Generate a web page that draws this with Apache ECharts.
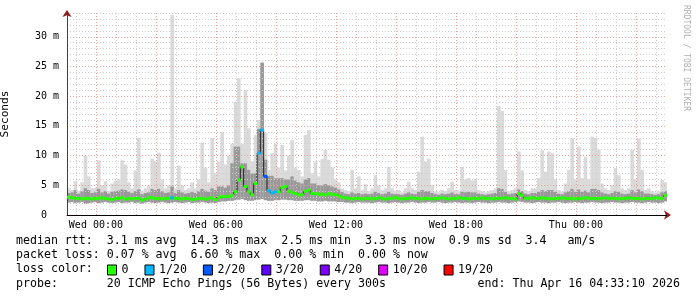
<!DOCTYPE html>
<html><head><meta charset="utf-8">
<script src="https://cdn.jsdelivr.net/npm/echarts@6/dist/echarts.min.js"></script>
<style>html,body{margin:0;padding:0;background:#fff}#c{width:697px;height:297px}</style>
</head><body><div id="c"></div>
<script>
// ---- time frame (hours relative to Wed 00:00) ----
const T_START = -(1 + 26/60 + 50/3600);   // Tue 22:33:10
const T_END = T_START + 30;               // Thu 04:33:10
const STEP = 1/6;                         // 10-minute buckets

const xTickValues = [0, 6, 12, 18, 24];
const xTickLabels = ['Wed 00:00', 'Wed 06:00', 'Wed 12:00', 'Wed 18:00', 'Thu 00:00'];
const yMax = 34;

const lossLevels = ['0', '1/20', '2/20', '3/20', '4/20', '10/20', '19/20'];
const lossColors = ['#26ff00', '#00b8ff', '#0059ff', '#5e00ff', '#7e00ff', '#dd00ff', '#ff0000'];

// median rtt (ms)
const medianMs = [
  3.0,2.9,2.8,2.8,2.7,2.8,2.8,2.7,2.8,2.8,
  2.9,2.8,2.7,2.6,2.8,2.8,2.9,2.7,2.8,2.7,
  2.8,2.8,2.5,2.7,2.9,2.9,2.8,2.8,2.7,2.8,
  2.8,2.9,2.8,2.8,2.7,2.8,2.8,2.6,2.7,2.8,
  2.8,2.7,2.8,2.9,2.6,3.0,3.1,3.1,3.1,3.3,
  3.9,5.9,8.1,4.8,3.9,3.4,5.3,10.4,14.3,6.5,
  4.1,3.7,3.9,3.9,4.6,4.8,4.0,3.8,3.6,3.4,
  3.4,4.0,4.2,3.6,3.6,3.5,3.5,3.4,3.6,3.5,
  3.4,3.2,3.0,2.9,2.8,2.7,2.8,2.8,2.7,2.8,
  2.8,2.7,2.8,2.9,2.8,2.7,2.8,2.8,2.9,2.8,
  2.7,2.8,2.8,2.9,2.8,2.8,2.7,2.8,2.8,2.7,
  2.8,2.8,2.9,2.8,2.7,2.8,2.8,2.9,2.8,2.8,
  2.7,2.8,2.8,2.8,2.9,2.8,2.8,2.7,2.8,2.8,
  2.8,2.9,2.8,2.8,2.7,3.6,3.3,2.8,2.8,2.9,
  2.8,2.8,2.9,2.8,2.8,2.7,2.8,2.8,2.9,2.8,
  2.8,2.8,2.7,2.8,2.8,2.9,2.8,2.8,2.8,2.7,
  2.8,2.9,2.8,2.8,2.8,2.7,2.8,2.8,2.9,2.8,
  2.8,2.8,2.7,2.8,2.8,2.8,2.9,2.8,2.8,3.3
];
// bottom of the smoke (ms)
const smokeMin = [
  2.1,2.2,2.0,2.1,2.2,1.9,2.0,2.1,2.2,2.0,
  2.1,2.2,2.1,2.0,2.1,2.2,2.0,2.1,2.1,2.2,
  2.0,2.1,1.9,2.1,2.2,2.1,2.0,2.1,2.2,2.1,
  2.0,2.1,2.2,2.1,2.0,2.1,2.2,2.0,2.1,2.1,
  2.2,2.1,2.0,2.1,2.0,2.2,2.3,2.3,2.4,2.4,
  2.5,2.6,2.7,2.5,2.4,2.4,2.5,2.6,2.7,2.5,
  2.4,2.4,2.5,2.5,2.6,2.6,2.5,2.5,2.4,2.4,
  2.4,2.5,2.5,2.4,2.4,2.3,2.3,2.4,2.3,2.3,
  2.3,2.2,2.2,2.1,2.1,2.0,2.1,2.2,2.1,2.1,
  2.1,2.0,2.1,2.2,2.1,2.1,2.0,2.1,2.2,2.1,
  2.0,2.1,2.1,2.2,2.1,2.0,2.1,2.1,2.2,2.1,
  2.1,2.2,2.1,2.0,2.1,2.1,2.2,2.1,2.0,2.1,
  2.1,2.0,2.1,2.2,2.1,2.1,2.0,2.1,2.1,2.2,
  2.1,2.1,2.0,2.1,2.2,2.3,2.2,2.1,2.1,2.0,
  2.1,2.2,2.1,2.1,2.0,2.1,2.1,2.2,2.1,2.0,
  2.1,2.1,2.2,2.1,2.0,2.1,2.1,2.2,2.1,2.1,
  2.0,2.1,2.1,2.2,2.1,2.1,2.0,2.1,2.1,2.2,
  2.1,2.1,2.0,2.1,2.2,2.1,2.1,2.0,2.1,2.3
];
// top of the dense (dark) smoke (ms)
const smokeMid = [
  3.7,3.8,4.2,3.6,4.0,4.5,4.2,3.7,3.8,4.4,
  3.8,4.0,3.6,3.9,4.0,4.1,4.3,4.2,3.9,3.7,
  4.0,4.3,3.5,3.7,3.8,4.4,4.2,4.4,4.0,3.7,
  3.8,4.8,3.7,4.2,3.8,3.6,3.7,3.9,3.7,4.0,
  4.4,4.1,3.9,4.5,4.2,4.8,4.8,4.6,5.0,8.7,
  11.5,11.5,8.7,8.7,7.6,7.0,7.0,14.5,25.6,9.3,
  6.6,6.6,6.2,6.2,6.2,6.0,6.0,6.5,5.8,5.5,
  5.3,6.0,6.2,5.3,5.3,5.0,5.0,5.2,5.0,4.8,
  4.6,4.3,3.9,3.6,3.5,3.8,3.6,3.7,3.5,3.6,
  3.5,3.6,3.9,3.7,3.5,3.6,3.9,3.6,3.5,3.5,
  3.4,3.6,3.8,3.6,3.5,3.9,4.2,4.0,4.0,3.7,
  3.5,3.4,3.6,3.5,3.6,3.8,3.5,3.5,3.9,3.8,
  3.9,3.8,3.8,3.6,3.5,3.4,3.5,3.6,3.7,4.5,
  4.4,3.9,3.5,3.6,3.7,4.3,4.0,3.6,3.5,3.7,
  3.7,3.9,4.2,4.0,4.2,4.2,3.9,3.6,3.5,3.8,
  4.0,4.4,3.9,4.3,3.9,4.1,3.8,4.4,4.4,4.2,
  3.8,3.6,3.5,3.7,4.0,3.9,3.6,3.5,3.6,4.2,
  3.8,4.3,4.0,3.6,3.6,3.5,3.4,3.5,3.8,4.0
];
// top of the light smoke = slowest ping (ms)
const smokeMax = [
  4.5,4.2,5.7,4.0,5.5,10.0,6.5,4.5,4.6,9.2,
  5.0,5.7,4.0,5.3,5.8,6.0,9.2,8.5,5.5,4.5,
  7.5,13.0,4.0,4.5,5.0,9.5,9.0,10.5,6.0,4.5,
  5.0,33.7,4.5,8.3,5.0,4.2,4.5,5.5,4.5,6.0,
  12.2,8.0,5.5,13.0,7.0,9.0,14.0,8.5,10.0,12.0,
  19.0,23.0,12.0,21.0,14.6,9.0,13.5,16.0,25.8,13.8,
  7.6,10.4,12.0,8.0,11.8,7.5,10.0,12.6,8.0,7.6,
  6.5,13.5,14.3,7.0,9.0,6.5,9.4,11.0,9.3,8.0,
  6.0,5.5,4.5,4.2,4.0,7.6,4.5,6.5,4.2,5.2,
  4.0,4.5,6.7,5.0,4.2,4.5,8.1,4.5,4.0,4.2,
  3.8,4.5,5.6,4.5,4.2,7.3,13.2,9.0,9.5,5.0,
  4.0,3.8,4.2,4.0,4.5,5.6,4.2,4.0,8.1,6.0,
  6.2,5.8,6.0,4.2,4.0,3.8,4.0,4.2,4.5,18.3,
  17.5,7.6,4.0,4.2,4.5,10.7,7.5,4.2,4.0,4.5,
  4.5,6.2,10.9,7.3,10.7,10.4,6.0,4.2,4.0,5.3,
  7.6,12.9,6.0,11.5,6.2,9.8,6.0,13.2,13.0,11.0,
  5.3,4.5,4.2,5.0,7.9,6.7,4.5,4.2,4.5,11.0,
  6.0,12.9,7.6,4.2,4.5,4.0,3.8,4.0,5.9,5.5
];
// loss level index per bucket (index into lossLevels)
const lossIdx = [
  0,0,0,0,0,0,0,0,0,0,
  0,0,0,0,0,0,0,0,0,0,
  0,0,0,0,0,0,0,0,0,0,
  0,1,0,0,0,0,0,0,0,0,
  0,0,0,0,0,0,0,0,0,0,
  0,0,0,0,0,0,0,1,1,2,
  1,1,1,0,0,0,0,0,0,0,
  0,0,0,0,0,0,0,0,0,0,
  0,0,0,0,0,0,0,0,0,0,
  0,0,0,0,0,0,0,0,0,0,
  0,0,0,0,0,0,0,0,0,0,
  0,0,0,0,0,0,0,0,0,0,
  0,0,0,0,0,0,0,0,0,0,
  0,0,0,0,0,0,0,0,0,0,
  0,0,0,0,0,0,0,0,0,0,
  0,0,0,0,0,0,0,0,0,0,
  0,0,0,0,0,0,0,0,0,0,
  0,0,0,0,0,0,0,0,0,0
];

const legendLines = [
  'median rtt:  3.1 ms avg  14.3 ms max  2.5 ms min  3.3 ms now  0.9 ms sd  3.4   am/s',
  'packet loss: 0.07 % avg  6.60 % max  0.00 % min  0.00 % now',
  'loss color:',
  'probe:       20 ICMP Echo Pings (56 Bytes) every 300s'
];
const endText = 'end: Thu Apr 16 04:33:10 2026';
const creditText = 'RRDTOOL / TOBI OETIKER';

// ---------------------------------------------------------------
const MONO = '"DejaVu Sans Mono", monospace';
const times = medianMs.map((_, i) => T_START + (i + 0.5) * STEP);
const smokeData = times.map((t, i) => [t, smokeMin[i], smokeMid[i], smokeMax[i]]);
const medianData = times.map((t, i) => [t, medianMs[i]]);

const gridMarks = [];
for (let h = Math.ceil(T_START); h <= Math.floor(T_END); h++) {
  gridMarks.push({ xAxis: h, lineStyle: { color: h % 3 === 0 ? '#e3a3a3' : '#cdcdcd', type: [1, 2], width: 1 } });
}

const chart = echarts.init(document.getElementById('c'), null, { renderer: 'canvas' });

const lossSeries = lossLevels.map((name, k) => ({
  name, type: 'custom', z: 5, clip: true,
  itemStyle: { color: lossColors[k] },
  encode: { x: 0, y: 1 },
  data: medianData.filter((_, i) => lossIdx[i] === k),
  renderItem: (params, api) => {
    const t = api.value(0), m = api.value(1);
    const a = api.coord([t - STEP / 2, m]);
    const b = api.coord([t + STEP / 2, m]);
    return { type: 'rect', shape: { x: a[0], y: a[1] - 1.5, width: b[0] - a[0] + 0.3, height: 3 },
             style: { fill: lossColors[k] } };
  }
}));

chart.setOption({
  animation: false,
  backgroundColor: '#fff',
  grid: { left: 67, right: 30, top: 13, bottom: 82, containLabel: false, outerBoundsMode: 'none' },
  xAxis: {
    type: 'value', min: T_START, max: T_END,
    axisLine: { show: true, onZero: false, symbol: ['none', 'arrow'], symbolSize: [7, 7], symbolOffset: [0, 4],
                lineStyle: { color: '#8b1e1e', width: 1 } },
    axisTick: { show: false },
    splitLine: { show: false },
    axisLabel: {
      customValues: xTickValues,
      formatter: v => { const k = xTickValues.indexOf(v); return k >= 0 ? xTickLabels[k] : ''; },
      margin: 5, color: '#000', fontFamily: MONO, fontSize: 10
    }
  },
  yAxis: {
    type: 'value', min: 0, max: yMax, interval: 1, z: 3,
    name: 'Seconds', nameLocation: 'middle', nameGap: 56, nameRotate: 90,
    nameTextStyle: { fontFamily: MONO, fontSize: 11.2, color: '#000' },
    axisLine: { show: true, onZero: false, symbol: ['none', 'arrow'], symbolSize: [7, 7], symbolOffset: [0, 3],
                lineStyle: { color: '#8b1e1e', width: 1 } },
    axisTick: { show: false },
    splitLine: { show: true, lineStyle: { color: ['#e3a3a3', '#cdcdcd', '#cdcdcd', '#cdcdcd', '#cdcdcd'], type: [1, 2], width: 1 } },
    axisLabel: {
      margin: 8, color: '#000', fontFamily: MONO, fontSize: 10,
      formatter: v => (v % 5 !== 0 ? '' : (v === 0 ? '0  ' : v + ' m'))
    }
  },
  legend: {
    left: 107, top: 264, orient: 'horizontal', padding: 0,
    itemWidth: 9, itemHeight: 10, itemGap: 16, icon: 'rect', selectedMode: false,
    itemStyle: { borderColor: '#000', borderWidth: 1 },
    textStyle: { fontFamily: MONO, fontSize: 11.6, color: '#000' },
    data: lossLevels
  },
  graphic: [
    ...legendLines.map((s, i) => ({ type: 'text', x: 16, y: [241, 255, 269, 284][i],
      style: { text: s, font: '11.6px ' + MONO, fill: '#000', verticalAlign: 'middle' } })),
    { type: 'text', x: 680, y: 284, style: { text: endText, font: '11.6px ' + MONO, fill: '#000', align: 'right', verticalAlign: 'middle' } },
    { type: 'text', x: 686, y: 5, rotation: -Math.PI / 2,
      style: { text: creditText, font: '8px ' + MONO, fill: '#b0b0b0', align: 'left', verticalAlign: 'middle' } }
  ],
  series: [
    {
      name: 'smoke', type: 'custom', z: 1, clip: true,
      encode: { x: 0, y: [1, 2, 3] },
      data: smokeData,
      renderItem: (params, api) => {
        const t = api.value(0);
        const pLo = api.coord([t - STEP / 2, api.value(1)]);
        const pMid = api.coord([t + STEP / 2, api.value(2)]);
        const pHi = api.coord([t + STEP / 2, api.value(3)]);
        const w = pHi[0] - pLo[0] + 0.3;
        return { type: 'group', children: [
          { type: 'rect', shape: { x: pLo[0], y: pHi[1], width: w, height: pLo[1] - pHi[1] }, style: { fill: '#dadada' } },
          { type: 'rect', shape: { x: pLo[0], y: pMid[1], width: w, height: pLo[1] - pMid[1] }, style: { fill: '#999999' } }
        ] };
      }
    },
    {
      name: 'grid', type: 'line', z: 2, data: [], silent: true,
      markLine: { silent: true, symbol: ['none', 'none'], label: { show: false }, animation: false, data: gridMarks }
    },
    {
      name: 'axes', type: 'line', z: 6, data: [], silent: true,
      markLine: { silent: true, symbol: ['none', 'none'], label: { show: false }, animation: false,
        data: [ { yAxis: 0, lineStyle: { color: '#000', type: 'solid', width: 1 } },
                { xAxis: T_START, lineStyle: { color: '#444', type: 'solid', width: 1 } } ] }
    },
    {
      name: 'median', type: 'line', z: 4, step: 'middle', symbol: 'none', data: medianData,
      lineStyle: { color: '#202020', width: 1 }
    },
    ...lossSeries
  ]
});
</script>
</body></html>
